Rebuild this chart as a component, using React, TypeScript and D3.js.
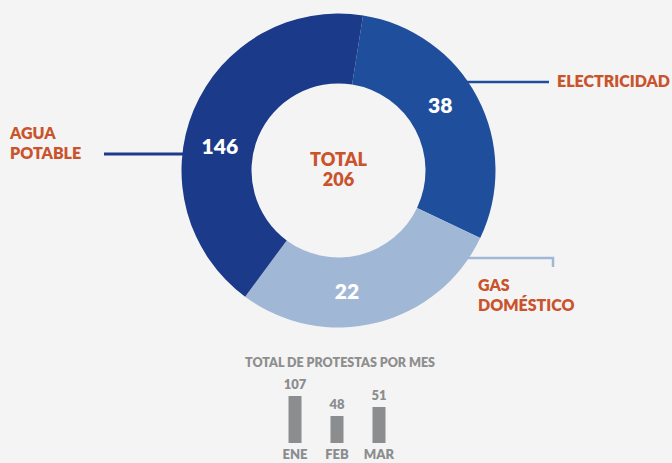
import React, { useEffect, useRef } from 'react';
import * as d3 from 'd3';

// servicios y totales que se leen en el grafico
const categories = ['ELECTRICIDAD', 'GAS DOMÉSTICO', 'AGUA POTABLE'];
const values = [38, 22, 146];
// parte del anillo que ocupa cada sector (grados medidos en la imagen)
const sliceShares = [106.5, 101, 152.5];
const colors = ['#1f4f9c', '#a0b8d6', '#1b3a8a'];

const months = ['ENE', 'FEB', 'MAR'];
const monthValues = [107, 48, 51];
// alto relativo de cada barra medido en la imagen
const monthBarShares = [47, 27, 36];

const W = 672;
const H = 463;

export default function App() {
  const ref = useRef<SVGSVGElement>(null);

  useEffect(() => {
    const svg = d3.select(ref.current);
    svg.selectAll('*').remove();

    svg.append('rect').attr('width', W).attr('height', H).attr('fill', '#f4f4f4');

    const cx = 338.5, cy = 170.5;
    const outerR = 157, innerR = 87;
    const start = (9 * Math.PI) / 180;

    const pie = d3.pie<number>()
      .sort(null)
      .value((d, i) => sliceShares[i])
      .startAngle(start)
      .endAngle(start + Math.PI * 2);
    const arcs = pie(values);
    const arc = d3.arc<d3.PieArcDatum<number>>().innerRadius(innerR).outerRadius(outerR);

    const g = svg.append('g').attr('transform', `translate(${cx},${cy})`);
    g.selectAll('path')
      .data(arcs)
      .enter()
      .append('path')
      .attr('d', arc)
      .attr('fill', (d, i) => colors[i]);

    // las cifras no van justo al medio del sector, se corren unos grados
    const labelShift = [-5, 10, -11.5];
    const labelR = 121;
    g.selectAll('text.val')
      .data(arcs)
      .enter()
      .append('text')
      .attr('class', 'val')
      .attr('transform', (d, i) => {
        const a = (d.startAngle + d.endAngle) / 2 + (labelShift[i] * Math.PI) / 180;
        return `translate(${labelR * Math.sin(a)},${-labelR * Math.cos(a)})`;
      })
      .attr('text-anchor', 'middle')
      .attr('dy', '0.36em')
      .attr('fill', '#fff')
      .style('font', '800 21px Lato, sans-serif')
      .text(d => d.data);

    // total al centro
    const total = d3.sum(values);
    const orange = '#c9532b';
    g.append('text').attr('y', -5).attr('text-anchor', 'middle').attr('fill', orange)
      .style('font', '800 18px Lato, sans-serif').text('TOTAL');
    g.append('text').attr('y', 15).attr('text-anchor', 'middle').attr('fill', orange)
      .style('font', '800 18px Lato, sans-serif').text(total);

    // lineas guia
    svg.append('line').attr('x1', 104).attr('x2', 183).attr('y1', 154).attr('y2', 154)
      .attr('stroke', colors[2]).attr('stroke-width', 3);
    svg.append('line').attr('x1', 465).attr('x2', 549).attr('y1', 82).attr('y2', 82)
      .attr('stroke', colors[0]).attr('stroke-width', 2.5);
    svg.append('path').attr('d', 'M462,258H553V267').attr('fill', 'none')
      .attr('stroke', colors[1]).attr('stroke-width', 2.5);

    const lab = (x: number, y: number, lines: string[]) => {
      const t = svg.append('text').attr('x', x).attr('y', y).attr('fill', orange)
        .style('font', '800 16px Lato, sans-serif');
      lines.forEach((l, i) => t.append('tspan').attr('x', x).attr('dy', i ? 20 : 0).text(l));
    };
    lab(10, 139, ['AGUA', 'POTABLE']);
    lab(557, 87, ['ELECTRICIDAD']);
    lab(478, 291, ['GAS', 'DOMÉSTICO']);

    // mini grafico de barras por mes
    const grey = '#8b8d8f';
    svg.append('text').attr('x', 340).attr('y', 367).attr('text-anchor', 'middle')
      .attr('fill', '#8e8e8e').style('font', '800 12.5px Lato, sans-serif')
      .text('TOTAL DE PROTESTAS POR MES');

    const x = d3.scaleBand().domain(months).range([288.5, 385.5]).paddingInner(0.69).paddingOuter(0);
    const base = 443;
    const y = d3.scaleLinear().domain([0, 47]).range([base, base - 47]);
    const bars = svg.append('g');
    bars.selectAll('rect')
      .data(months)
      .enter()
      .append('rect')
      .attr('x', d => x(d)!)
      .attr('width', x.bandwidth())
      .attr('y', (d, i) => y(monthBarShares[i]))
      .attr('height', (d, i) => base - y(monthBarShares[i]))
      .attr('fill', grey);
    bars.selectAll('text.v')
      .data(months)
      .enter()
      .append('text')
      .attr('class', 'v')
      .attr('x', d => x(d)! + x.bandwidth() / 2)
      .attr('y', (d, i) => y(monthBarShares[i]) - 7)
      .attr('text-anchor', 'middle')
      .attr('fill', grey)
      .style('font', '800 13px Lato, sans-serif')
      .text((d, i) => monthValues[i]);
    bars.selectAll('text.m')
      .data(months)
      .enter()
      .append('text')
      .attr('class', 'm')
      .attr('x', d => x(d)! + x.bandwidth() / 2)
      .attr('y', 459)
      .attr('text-anchor', 'middle')
      .attr('fill', grey)
      .style('font', '800 13px Lato, sans-serif')
      .text(d => d);
  }, []);

  return (
    <svg
      ref={ref}
      width={W}
      height={H}
      style={{ position: 'absolute', left: 0, top: 0, display: 'block' }}
    />
  );
}
